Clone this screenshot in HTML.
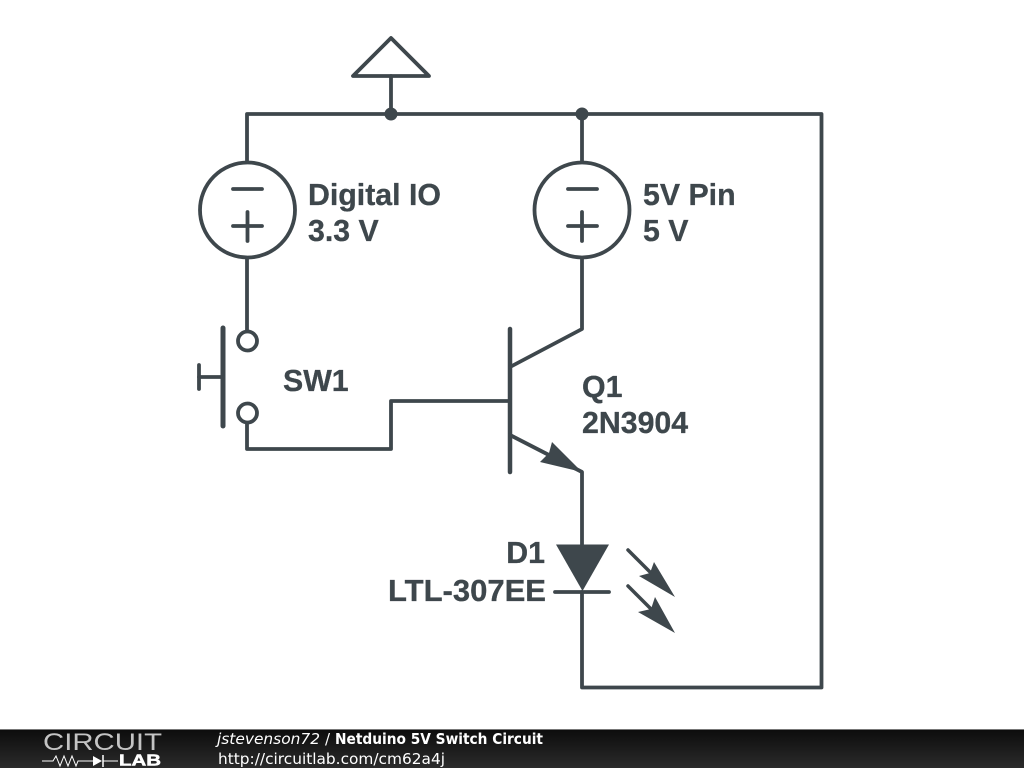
<!DOCTYPE html>
<html><head><meta charset="utf-8"><style>
html,body{margin:0;padding:0;background:#fff;width:1024px;height:768px;overflow:hidden}
svg{display:block}
.l{font-family:"Liberation Sans",sans-serif;font-weight:700;font-size:30.3px;fill:#3e474c;stroke:#3e474c;stroke-width:.3}
.f{font-family:"DejaVu Sans",sans-serif;font-size:15px;fill:#fff}
</style></head><body>
<svg width="1024" height="768" viewBox="0 0 1024 768" xmlns="http://www.w3.org/2000/svg">
<defs><linearGradient id="g" x1="0" y1="0" x2="0" y2="1"><stop offset="0" stop-color="#0c0c0c"/><stop offset="1" stop-color="#2b2b2b"/></linearGradient></defs>
<rect width="1024" height="768" fill="#fff"/>
<g fill="none" stroke="#3e474c" stroke-width="3.8" stroke-linecap="round" stroke-linejoin="round">
<path d="M247 162V114H821.5V687.5H582V592"/>
<path d="M391 76V114"/>
<path d="M391 38L353 76H429Z"/>
<path d="M582 114V162"/>
<circle cx="247.5" cy="210" r="47.5"/>
<circle cx="582" cy="210" r="47.5"/>
<path d="M233 189H262M233 226H262M247.5 212V241"/>
<path d="M568 189H597M568 226H597M582 212V241"/>
<path d="M247 258V331"/>
<circle cx="247.5" cy="341" r="9.5"/>
<circle cx="247.5" cy="413" r="9.5"/>
<path d="M247 423V449H391V401H510"/>
<path d="M223 328V426" stroke-width="5"/>
<path d="M199 377H223"/>
<path d="M199 365V389"/>
<path d="M510 329V472" stroke-width="4.5"/>
<path d="M510 367L582 329V258"/>
<path d="M510 435L582 472V545"/>
<path d="M555 592H609"/>
<path d="M628 550L660 582M628 586L660 618" stroke-width="3.5"/>
</g>
<g fill="#3e474c">
<circle cx="391" cy="114" r="6.5"/>
<circle cx="582" cy="114" r="6.5"/>
<path d="M552 442L582 472L540 462L549 453Z"/>
<path d="M556 544.5H609L582.5 591Z"/>
<path d="M654 562L675 597L639 576L650 573Z"/>
<path d="M655 597L675 633L638 612L651 609Z"/>
</g>
<text class="l" x="308" y="205">Digital IO</text>
<text class="l" x="308" y="241">3.3 V</text>
<text class="l" x="643" y="205">5V Pin</text>
<text class="l" x="643" y="241">5 V</text>
<text class="l" x="283" y="391">SW1</text>
<text class="l" x="582" y="397">Q1</text>
<text class="l" x="582" y="433">2N3904</text>
<text class="l" x="545" y="563" text-anchor="end">D1</text>
<text class="l" x="388" y="601" textLength="158" lengthAdjust="spacingAndGlyphs">LTL-307EE</text>
<rect y="729" width="1024" height="39" fill="url(#g)"/>
<rect y="729" width="1024" height="1" fill="#777"/>
<text x="43" y="750" font-family="Liberation Sans,sans-serif" font-size="24" fill="#c4c4c4" textLength="119" lengthAdjust="spacingAndGlyphs">CIRCUIT</text>
<text x="119" y="765.5" font-family="Liberation Sans,sans-serif" font-size="15.5" font-weight="700" fill="#fff" stroke="#fff" stroke-width=".5" textLength="42" lengthAdjust="spacingAndGlyphs">LAB</text>
<path d="M42 761H53L56 756L60 766L64 756L68 766L72 756L76 766L78 761H93" fill="none" stroke="#fff" stroke-width="1"/>
<path d="M93 756L102 761L93 766Z" fill="#fff"/><path d="M103 755V767" stroke="#fff" stroke-width="1.5"/>
<path d="M103 761H118" stroke="#fff" stroke-width="1"/>
<text class="f" x="217" y="744" font-style="italic" textLength="103" lengthAdjust="spacingAndGlyphs">jstevenson72</text>
<text class="f" x="325" y="744">/</text>
<text class="f" x="335" y="744" font-weight="700" textLength="208" lengthAdjust="spacingAndGlyphs">Netduino 5V Switch Circuit</text>
<text class="f" x="218" y="764" textLength="227" lengthAdjust="spacingAndGlyphs">http://circuitlab.com/cm62a4j</text>
</svg>
</body></html>
